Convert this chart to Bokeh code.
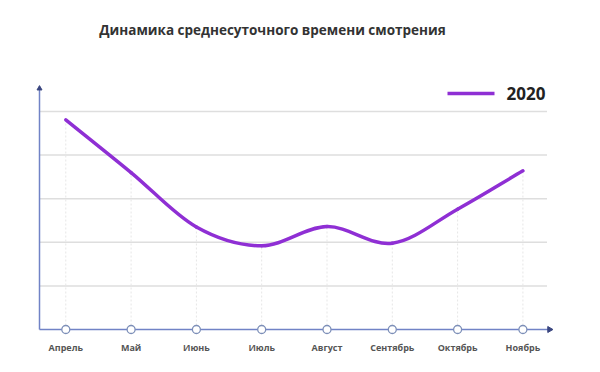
import numpy as np
from bokeh.plotting import figure
from bokeh.models import Range1d, Label, ColumnDataSource
from bokeh.core.properties import value
from bokeh.embed import file_html
from bokeh.resources import INLINE

# ---- data ----
months = ["Апрель", "Май", "Июнь", "Июль", "Август", "Сентябрь", "Октябрь", "Ноябрь"]
series_name = "2020"
values_2020 = [4.81, 3.60, 2.35, 1.92, 2.36, 1.98, 2.76, 3.64]
grid_levels = [1, 2, 3, 4, 5]
title_text = "Динамика среднесуточного времени смотрения"

# ---- styles ----
PURPLE = "#8f2fd4"
AXIS = "#7183c6"
GRID = "#dedede"
FONT = "Open Sans"

W, H = 584, 356
OFF = 0       # page offset of the figure
px_x = 65.3   # pixels per month
px_y = 43.6   # pixels per unit
x0_page, y0_page = 65.3, 329.0  # page position of (0, 0)

xs = -(x0_page - OFF) / px_x
xe = xs + W / px_x
ye = (y0_page - OFF) / px_y
ys = ye - H / px_y

p = figure(width=W, height=H, output_backend="svg", toolbar_location=None,
           x_range=Range1d(xs, xe), y_range=Range1d(ys, ye),
           min_border=0, min_border_left=0, min_border_right=0,
           min_border_top=0, min_border_bottom=0)
p.axis.visible = False
p.grid.visible = False
p.outline_line_color = None
p.background_fill_color = "white"
p.border_fill_color = "white"

def page_x(px):
    return (px - x0_page) / px_x

def page_y(py):
    return (y0_page - py) / px_y

n = len(months)
xi = np.arange(n, dtype=float)
yv = np.array(values_2020, dtype=float)

ax_left = page_x(39)
ax_right = page_x(549)
grid_right = page_x(546.5)
ax_top = page_y(88)

# horizontal grid lines
p.segment(x0=[ax_left] * len(grid_levels), y0=grid_levels,
          x1=[grid_right] * len(grid_levels), y1=grid_levels,
          line_color=GRID, line_width=1.5)

# vertical dotted guides from axis to each point
p.segment(x0=xi, y0=[0] * n, x1=xi, y1=yv,
          line_color="#e6e6e6", line_width=1, line_dash="2 2")

# smooth curve via cubic Bezier (Catmull-Rom tangents) through the data points
xp = np.concatenate([[xi[0]], xi, [xi[-1]]])
yp = np.concatenate([[yv[0]], yv, [yv[-1]]])
tx = (xp[2:] - xp[:-2]) / 2.0
ty = (yp[2:] - yp[:-2]) / 2.0
tx[0], tx[-1] = 1.0, 1.0
ty[0] = yv[1] - yv[0]
ty[-1] = yv[-1] - yv[-2]
bsrc = ColumnDataSource(dict(
    x0=xi[:-1], y0=yv[:-1], x1=xi[1:], y1=yv[1:],
    cx0=xi[:-1] + tx[:-1] / 3.0, cy0=yv[:-1] + ty[:-1] / 3.0,
    cx1=xi[1:] - tx[1:] / 3.0, cy1=yv[1:] - ty[1:] / 3.0,
))
p.bezier(x0="x0", y0="y0", x1="x1", y1="y1", cx0="cx0", cy0="cy0",
         cx1="cx1", cy1="cy1", source=bsrc, line_color=PURPLE, line_width=3.5,
         line_cap="round")

# axes
p.segment(x0=[ax_left], y0=[0], x1=[ax_right], y1=[0], line_color=AXIS, line_width=1.5)
p.segment(x0=[ax_left], y0=[0], x1=[ax_left], y1=[ax_top], line_color=AXIS, line_width=1.5)
p.scatter(x=[ax_right], y=[0], marker="triangle", size=6, angle=-np.pi / 2,
          fill_color="#3a4680", line_color="#3a4680")
p.scatter(x=[ax_left], y=[ax_top], marker="triangle", size=5,
          fill_color="#3a4680", line_color="#3a4680")

# month markers on the axis
p.scatter(x=xi, y=[0] * n, size=8, marker="circle", fill_color="white",
          line_color="#7d8fb8", line_width=1.3)

# month labels
p.text(x=xi, y=[page_y(347)] * n, text=months, text_align="center",
       text_baseline="middle", text_font=value(FONT), text_font_size="9px",
       text_font_style="bold", text_color="#555555")

# legend
p.segment(x0=[page_x(447)], y0=[page_y(93)], x1=[page_x(494)], y1=[page_y(93)],
          line_color=PURPLE, line_width=3.5)
p.add_layout(Label(x=page_x(506), y=page_y(93), text=series_name,
                   text_font=FONT, text_font_size="17px", text_font_style="bold",
                   text_color="#222222", text_baseline="middle", text_align="left"))

# title
p.add_layout(Label(x=page_x(272), y=page_y(29), text=title_text,
                   text_font=FONT, text_font_size="13.5px", text_font_style="bold",
                   text_color="#333333", text_baseline="middle", text_align="center"))

open("out.html", "w").write(file_html(p, INLINE))
